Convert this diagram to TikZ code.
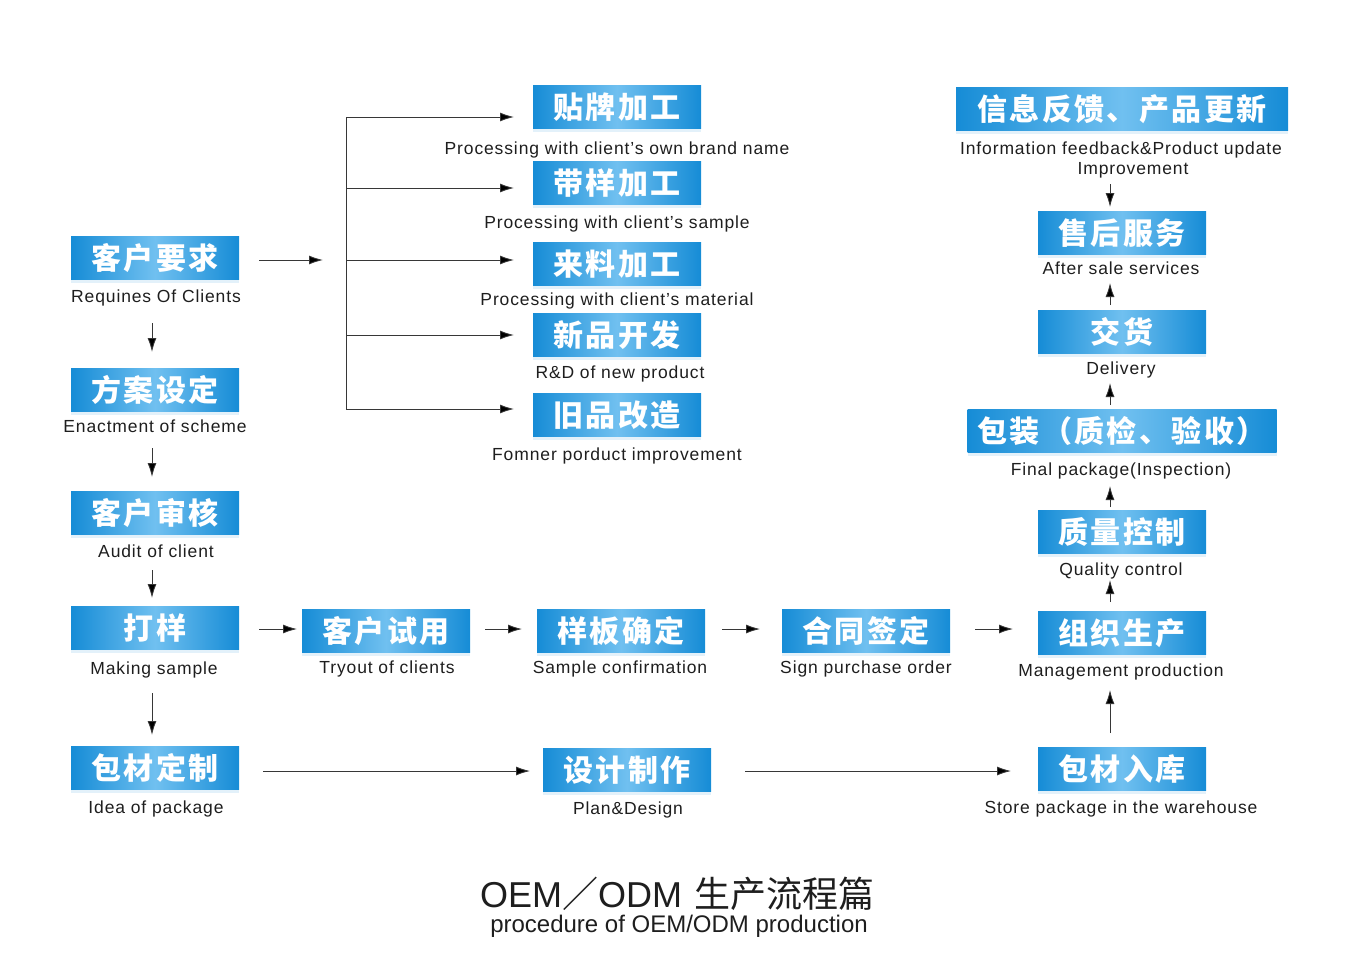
\documentclass[tikz,border=0pt]{standalone}
\usepackage{fontspec}
\setmainfont{Liberation Sans}[LetterSpace=5]
\newfontfamily\plainfont{Liberation Sans}
\newfontfamily\cjk{Noto Sans CJK SC}[LetterSpace=8]
\newfontfamily\cjktitle{Noto Sans CJK SC}
\usetikzlibrary{arrows.meta,shadows}
\definecolor{bdark}{RGB}{22,140,214}
\definecolor{blight}{RGB}{112,192,240}
\definecolor{txt}{RGB}{30,30,30}
\definecolor{lncol}{RGB}{55,55,55}
\tikzset{
  bluebox/.style={minimum width=168, minimum height=43, inner sep=0pt, text=white,
    font=\cjk\bfseries\fontsize{30}{32}\selectfont,
    left color=bdark, right color=bdark, middle color=blight,
    drop shadow={shadow xshift=0pt, shadow yshift=-3pt, opacity=0.12, fill=bdark}},
  captxt/.style={font=\fontsize{17.5}{20}\selectfont, text=txt, inner sep=0pt, yshift=-2pt},
  arr/.style={draw=lncol, line width=0.9pt, -{Latex[length=14pt,width=9pt,fill=black]}},
  plainln/.style={draw=lncol, line width=0.9pt}
}
\begin{document}
\begin{tikzpicture}[x=1pt,y=-1pt]
\useasboundingbox (0,0) rectangle (1354,964);
% left column
\node[bluebox] (b1) at (155,258) {客户要求};
\node[captxt] (c1) at (156,296) {Requines Of Clients};
\node[bluebox] (b2) at (155,390) {方案设定};
\node[captxt] (c2) at (155,424) {Enactment of scheme};
\node[bluebox] (b3) at (155,513) {客户审核};
\node[captxt] (c3) at (156,549) {Audit of client};
\node[bluebox] (b4) at (155,628) {打样};
\node[captxt] (c4) at (154,668) {Making sample};
\node[bluebox] (b5) at (155,768) {包材定制};
\node[captxt] (c5) at (156,807) {Idea of package};
\coordinate (v1s) at (152,323); \coordinate (v1e) at (152,352);
\coordinate (v2s) at (152,448); \coordinate (v2e) at (152,477);
\coordinate (v3s) at (152,570); \coordinate (v3e) at (152,598);
\coordinate (v4s) at (152,693); \coordinate (v4e) at (152,735);
\draw[arr] (v1s) -- (v1e);
\draw[arr] (v2s) -- (v2e);
\draw[arr] (v3s) -- (v3e);
\draw[arr] (v4s) -- (v4e);
% middle column
\node[bluebox] (m1) at (617,107) {贴牌加工};
\node[captxt] (mc1) at (617,148) {Processing with client's own brand name};
\node[bluebox] (m2) at (617,183) {带样加工};
\node[captxt] (mc2) at (617,222) {Processing with client's sample};
\node[bluebox] (m3) at (617,264) {来料加工};
\node[captxt] (mc3) at (617,299) {Processing with client's material};
\node[bluebox] (m4) at (617,335) {新品开发};
\node[captxt] (mc4) at (620,372) {R\&D of new product};
\node[bluebox] (m5) at (617,415) {旧品改造};
\node[captxt] (mc5) at (617,454) {Fomner porduct improvement};
% bracket
\coordinate (bs) at (259,260); \coordinate (be) at (323,260);
\draw[arr] (bs) -- (be);
\coordinate (t1) at (346,117); \coordinate (t5) at (346,409);
\draw[plainln] (t1) -- (t5);
\foreach \y/\m in {117/m1,188/m2,260/m3,335/m4,409/m5}{
  \coordinate (h\m) at (346,\y);
  \coordinate (e\m) at (514,\y);
  \draw[arr] (h\m) -- (e\m);
}
% production row
\node[bluebox] (r1) at (386,631) {客户试用};
\node[captxt] (rc1) at (387,667) {Tryout of clients};
\node[bluebox] (r2) at (621,631) {样板确定};
\node[captxt] (rc2) at (620,667) {Sample confirmation};
\node[bluebox] (r3) at (866,631) {合同签定};
\node[captxt] (rc3) at (866,667) {Sign purchase order};
\node[bluebox] (r4) at (1122,633) {组织生产};
\node[captxt] (rc4) at (1121,670) {Management production};
\coordinate (a1s) at (259,629); \coordinate (a1e) at (297,629);
\coordinate (a2s) at (485,629); \coordinate (a2e) at (522,629);
\coordinate (a3s) at (722,629); \coordinate (a3e) at (760,629);
\coordinate (a4s) at (975,629); \coordinate (a4e) at (1013,629);
\draw[arr] (a1s) -- (a1e);
\draw[arr] (a2s) -- (a2e);
\draw[arr] (a3s) -- (a3e);
\draw[arr] (a4s) -- (a4e);
% right column
\node[bluebox] (k1) at (1122,769) {包材入库};
\node[captxt] (kc1) at (1121,807) {Store package in the warehouse};
\node[bluebox] (q) at (1122,532) {质量控制};
\node[captxt] (qc) at (1121,569) {Quality control};
\node[bluebox, minimum width=309] (p) at (1122,431) {包装（质检、验收）};
\node[captxt] (pc) at (1121,469) {Final package(Inspection)};
\node[bluebox] (d) at (1122,332) {交货};
\node[captxt] (dc) at (1121,368) {Delivery};
\node[bluebox] (s) at (1122,233) {售后服务};
\node[captxt] (sc) at (1121,266) {After sale services};
\node[bluebox, minimum width=332] (i) at (1122,109) {信息反馈、产品更新};
\node[captxt] (ic1) at (1121,148) {Information feedback\&Product update};
\node[captxt] (ic2) at (1133,168) {Improvement};
\coordinate (u1s) at (1110,733); \coordinate (u1e) at (1110,690);
\coordinate (u2s) at (1110,602); \coordinate (u2e) at (1110,580);
\coordinate (u3s) at (1110,507); \coordinate (u3e) at (1110,486);
\coordinate (u4s) at (1110,405); \coordinate (u4e) at (1110,383);
\coordinate (u5s) at (1110,305); \coordinate (u5e) at (1110,283);
\coordinate (u6s) at (1110,184); \coordinate (u6e) at (1110,207);
\draw[arr] (u1s) -- (u1e);
\draw[arr] (u2s) -- (u2e);
\draw[arr] (u3s) -- (u3e);
\draw[arr] (u4s) -- (u4e);
\draw[arr] (u5s) -- (u5e);
\draw[arr] (u6s) -- (u6e);
% bottom row
\node[bluebox] (g) at (627,770) {设计制作};
\node[captxt] (gc) at (628,808) {Plan\&Design};
\coordinate (w1s) at (263,771); \coordinate (w1e) at (530,771);
\coordinate (w2s) at (745,771); \coordinate (w2e) at (1011,771);
\draw[arr] (w1s) -- (w1e);
\draw[arr] (w2s) -- (w2e);
% title
\node[inner sep=0pt, text=txt] (title) at (677,894) {\plainfont\fontsize{36}{40}\selectfont OEM{\cjktitle ／}ODM\hspace{12pt}{\cjktitle 生产流程篇}};
\node[inner sep=0pt, text=txt] (sub) at (679,926) {\plainfont\fontsize{24}{27}\selectfont procedure of OEM/ODM production};
\end{tikzpicture}
\end{document}
